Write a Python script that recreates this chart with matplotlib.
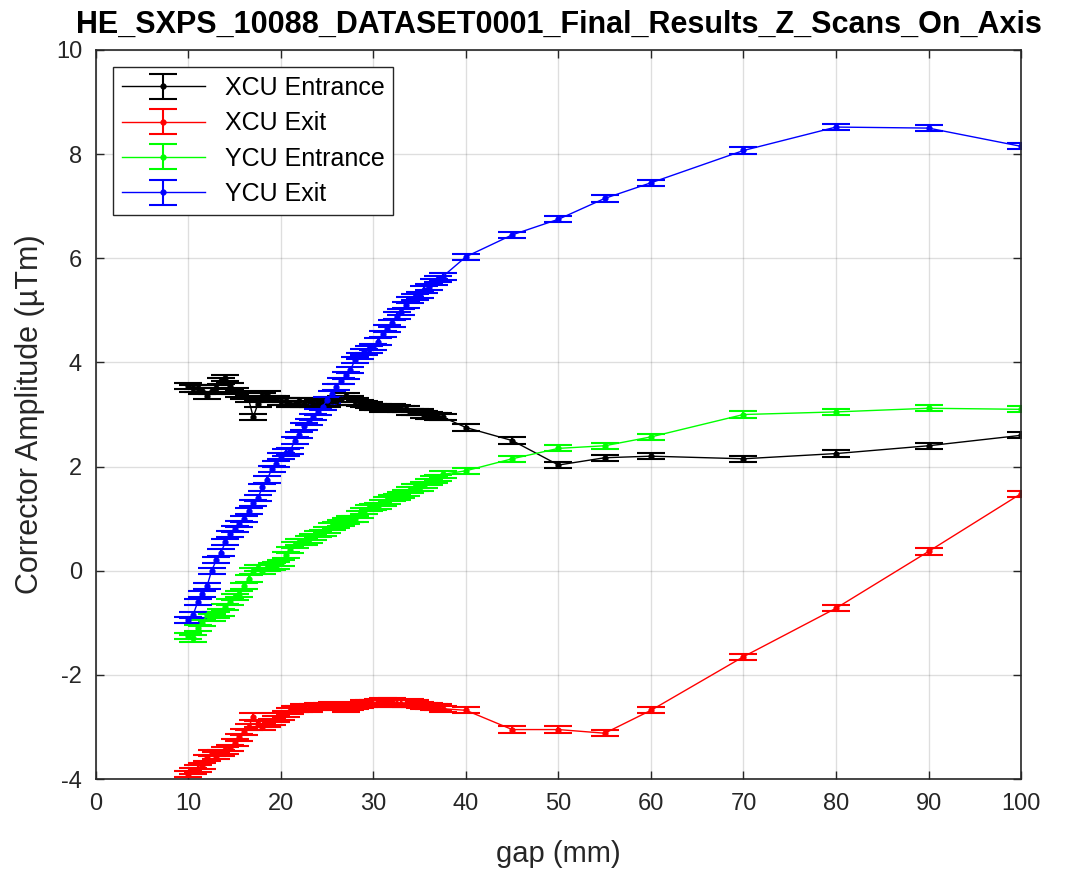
import numpy as np
import matplotlib
matplotlib.use('Agg')
import matplotlib.pyplot as plt

plt.rcParams['font.family'] = ['Liberation Sans', 'DejaVu Sans']
plt.rcParams['axes.unicode_minus'] = False

# gap positions (mm): dense scan 10..37.5 then coarse steps
gap = [10, 10.5, 11, 11.5, 12, 12.5, 13, 13.5, 14, 14.5, 15, 15.5, 16, 16.5,
       17, 17.5, 18, 18.5, 19, 19.5, 20, 20.5, 21, 21.5, 22, 22.5, 23, 23.5,
       24, 24.5, 25, 25.5, 26, 26.5, 27, 27.5, 28, 28.5, 29, 29.5, 30, 30.5,
       31, 31.5, 32, 32.5, 33, 33.5, 34, 34.5, 35, 35.5, 36, 36.5, 37, 37.5,
       40, 45, 50, 55, 60, 70, 80, 90, 100]

xcu_entrance = [3.55, 3.5, 3.5, 3.45, 3.35, 3.45, 3.5, 3.65, 3.7, 3.55, 3.45, 3.4,
                3.35, 3.3, 2.95, 3.2, 3.35, 3.4, 3.3, 3.3, 3.25, 3.25, 3.2, 3.2,
                3.25, 3.2, 3.25, 3.2, 3.22, 3.2, 3.2, 3.25, 3.25, 3.3, 3.35, 3.3,
                3.25, 3.22, 3.2, 3.18, 3.15, 3.15, 3.1, 3.12, 3.15, 3.12, 3.1, 3.1,
                3.05, 3.05, 3.05, 3.0, 2.98, 2.97, 2.96, 2.95,
                2.75, 2.5, 2.03, 2.17, 2.2, 2.15, 2.25, 2.4, 2.6]

xcu_exit = [-3.9, -3.85, -3.8, -3.75, -3.6, -3.5, -3.55, -3.5, -3.45, -3.4, -3.3, -3.2,
            -3.1, -3.0, -2.8, -2.95, -3.0, -2.95, -2.9, -2.85, -2.8, -2.75, -2.7, -2.65,
            -2.65, -2.62, -2.65, -2.62, -2.6, -2.62, -2.6, -2.58, -2.6, -2.62, -2.65, -2.62,
            -2.6, -2.58, -2.55, -2.55, -2.55, -2.52, -2.5, -2.52, -2.5, -2.55, -2.55, -2.55,
            -2.52, -2.55, -2.58, -2.6, -2.6, -2.62, -2.62, -2.65,
            -2.68, -3.05, -3.05, -3.12, -2.68, -1.65, -0.72, 0.37, 1.48]

ycu_entrance = [-1.25, -1.3, -1.1, -1.0, -0.85, -0.9, -0.85, -0.8, -0.7, -0.6, -0.5, -0.45,
                -0.3, -0.15, 0.0, 0.05, 0.0, 0.05, 0.08, 0.1, 0.15, 0.3, 0.4, 0.5,
                0.55, 0.55, 0.6, 0.65, 0.7, 0.72, 0.78, 0.85, 0.88, 0.92, 0.95, 1.0,
                1.0, 1.08, 1.15, 1.2, 1.22, 1.25, 1.3, 1.35, 1.4, 1.42, 1.45, 1.5,
                1.55, 1.6, 1.6, 1.65, 1.7, 1.75, 1.78, 1.85,
                1.92, 2.15, 2.35, 2.4, 2.57, 3.0, 3.05, 3.12, 3.1]

ycu_exit = [-0.95, -0.85, -0.6, -0.45, -0.3, 0.0, 0.2, 0.35, 0.55, 0.7, 0.8, 0.9,
            1.0, 1.15, 1.3, 1.4, 1.6, 1.75, 1.95, 2.05, 2.2, 2.27, 2.3, 2.5,
            2.6, 2.77, 2.85, 2.95, 3.05, 3.15, 3.28, 3.4, 3.53, 3.65, 3.75, 3.85,
            4.05, 4.12, 4.2, 4.25, 4.3, 4.4, 4.55, 4.65, 4.75, 4.9, 4.97, 5.1,
            5.2, 5.25, 5.3, 5.4, 5.45, 5.55, 5.6, 5.65,
            6.03, 6.45, 6.75, 7.15, 7.45, 8.07, 8.52, 8.5, 8.15]

series_names = ['XCU Entrance', 'XCU Exit', 'YCU Entrance', 'YCU Exit']
series_err = [0.06, 0.06, 0.06, 0.06]
colors = ['#000000', '#ff0000', '#00ff00', '#0000ff']

fig = plt.figure(figsize=(10.65, 8.77), dpi=100)
ax = fig.add_axes([0.0901, 0.1117, 0.8686, 0.8313])

for ys, name, err, c in zip([xcu_entrance, xcu_exit, ycu_entrance, ycu_exit],
                            series_names, series_err, colors):
    ax.errorbar(gap, ys, yerr=err, color=c, marker='.', markersize=7,
                linewidth=1.0, elinewidth=1.5, capsize=10, capthick=1.5,
                label=name)

ax.set_xlim(0, 100)
ax.set_ylim(-4, 10)
ax.set_xticks(np.arange(0, 101, 10))
ax.set_yticks(np.arange(-4, 11, 2))
ax.grid(True, color='#262626', alpha=0.15, linewidth=1.0)
ax.tick_params(direction='in', top=True, right=True, length=6, width=1,
               labelsize=17, colors='#262626', pad=10)
for s in ax.spines.values():
    s.set_color('#262626')
    s.set_linewidth(1.2)

ax.set_xlabel('gap (mm)', fontsize=21, color='#262626', labelpad=18)
ax.set_ylabel('Corrector Amplitude (µTm)', fontsize=22, color='#262626', labelpad=8)
ax.set_title('HE_SXPS_10088_DATASET0001_Final_Results_Z_Scans_On_Axis',
             fontsize=22, fontweight='bold', pad=12)

leg = ax.legend(loc='upper left', fontsize=18, fancybox=False, framealpha=1,
                edgecolor='#262626', borderaxespad=0.7, handlelength=3.3,
                labelspacing=0.45, borderpad=0.35)
leg.get_frame().set_linewidth(1.0)

fig.savefig('out.png', dpi=100)
